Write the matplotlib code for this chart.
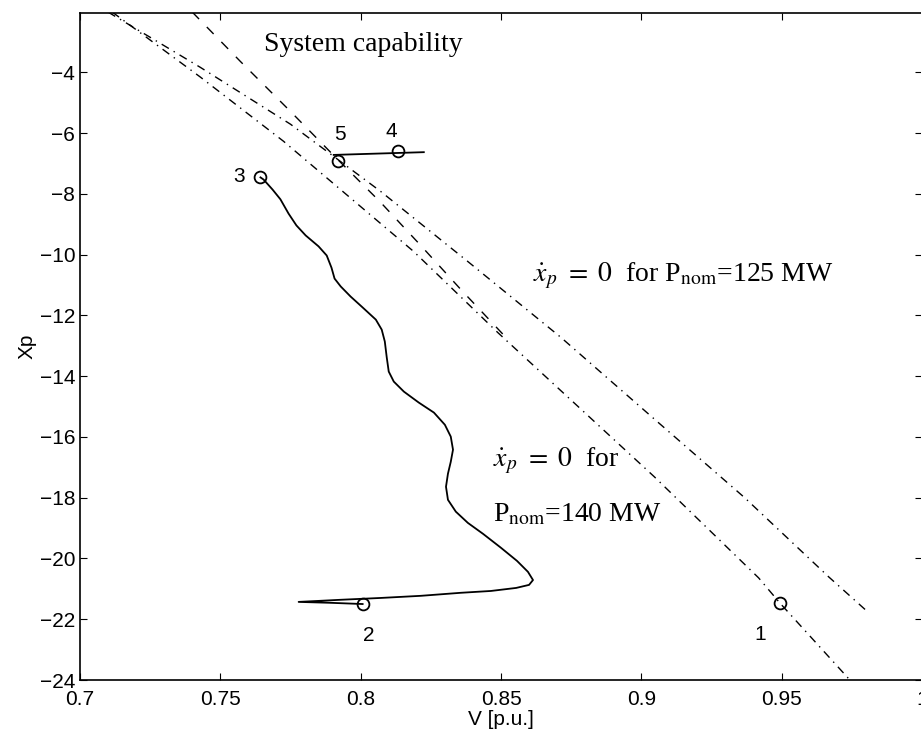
import matplotlib
matplotlib.use("Agg")
import matplotlib.pyplot as plt

plt.rcParams.update({
    "font.family": "Liberation Sans",
    "mathtext.fontset": "stix",
    "xtick.direction": "in",
    "ytick.direction": "in",
    "xtick.top": True,
    "ytick.right": True,
    "xtick.major.size": 5,
    "ytick.major.size": 5,
    "axes.linewidth": 1.2,
})

# x_p = 0 curves (dash-dot)
v_125 = [0.7100, 0.7429, 0.775, 0.8071, 0.8382, 0.8714, 0.9036, 0.9368, 0.9668, 0.9807]
xp_125 = [-2.02, -3.84, -5.71, -7.92, -10.23, -12.73, -15.33, -18.0, -20.61, -21.76]
v_140 = [0.7115, 0.7429, 0.7725, 0.8189, 0.8489, 0.9046, 0.9418, 0.9493, 0.9743]
xp_140 = [-2.02, -4.16, -6.27, -9.90, -12.57, -17.31, -20.64, -21.46, -24.0]

# system capability (dashed)
v_cap = [0.74, 0.7571, 0.775, 0.7918, 0.8071, 0.8214, 0.8357, 0.8518]
xp_cap = [-2.02, -3.64, -5.29, -6.87, -8.28, -9.70, -11.15, -12.73]

# trajectory 2 -> 3
v_traj = [0.8007, 0.7893, 0.7779, 0.7929, 0.8071, 0.8214, 0.8357, 0.8464, 0.8554, 0.8600,
          0.8614, 0.8596, 0.8557, 0.8500, 0.8436, 0.8382, 0.8339, 0.8311, 0.8304, 0.8311,
          0.8321, 0.8329, 0.8321, 0.8300, 0.8261, 0.8207, 0.8154, 0.8118, 0.8100, 0.8093,
          0.8086, 0.8075, 0.8054, 0.8007, 0.7964, 0.7929, 0.7907, 0.7896, 0.7879, 0.7850,
          0.7804, 0.7771, 0.7743, 0.7714, 0.7686, 0.7654, 0.7643]
xp_traj = [-21.50, -21.46, -21.43, -21.36, -21.30, -21.23, -21.13, -21.07, -20.97, -20.87,
           -20.71, -20.44, -20.08, -19.65, -19.19, -18.83, -18.46, -18.07, -17.64, -17.21,
           -16.82, -16.42, -15.99, -15.60, -15.20, -14.87, -14.51, -14.18, -13.85, -13.39,
           -12.86, -12.47, -12.14, -11.74, -11.38, -11.05, -10.79, -10.43, -10.03, -9.73,
           -9.37, -9.04, -8.65, -8.18, -7.86, -7.53, -7.46]
# trajectory 4 -> 5
v_seg = [0.7904, 0.8225]
xp_seg = [-6.72, -6.63]

# marked operating points
pt_labels = ["1", "2", "3", "4", "5"]
pt_v = [0.9493, 0.8007, 0.7643, 0.8132, 0.7918]
pt_xp = [-21.46, -21.50, -7.46, -6.60, -6.93]
lbl_v = [0.9425, 0.8030, 0.7565, 0.8110, 0.7925]
lbl_xp = [-22.50, -22.55, -7.42, -5.95, -6.05]

fig = plt.figure(figsize=(9.21, 7.35), dpi=100)
ax = fig.add_axes([80 / 921, 1 - 680 / 735, 842 / 921, 667 / 735])

dashdot = (0, (6, 4, 1, 4))
ax.plot(v_125, xp_125, color="black", lw=1.0, ls=dashdot)
ax.plot(v_140, xp_140, color="black", lw=1.0, ls=dashdot)
ax.plot(v_cap, xp_cap, color="black", lw=1.0, ls=(0, (7, 8)))
ax.plot(v_traj, xp_traj, color="black", lw=1.3)
ax.plot(v_seg, xp_seg, color="black", lw=1.3)
ax.plot(pt_v, pt_xp, ls="none", marker="o", ms=8.5, mfc="none", mec="black", mew=1.3)

for s, x, y in zip(pt_labels, lbl_v, lbl_xp):
    ax.text(x, y, s, fontsize=15, ha="center", va="center")

serif = dict(family="Liberation Serif", fontsize=20)
ax.text(0.7657, -3.1, "System capability", **serif, va="center")
ax.text(0.8614, -10.89, r"$\dot{x}_p\ =\ 0$  for P$_{\rm nom}$=125 MW", **serif, va="baseline")
ax.text(0.8471, -16.98, r"$\dot{x}_p\ =\ 0$  for", **serif, va="baseline")
ax.text(0.8471, -18.79, r"P$_{\rm nom}$=140 MW", **serif, va="baseline")

ax.set_xlim(0.7, 1.0)
ax.set_ylim(-24, -2.05)
ax.set_xticks([0.7, 0.75, 0.8, 0.85, 0.9, 0.95, 1.0])
ax.set_xticklabels(["0.7", "0.75", "0.8", "0.85", "0.9", "0.95", "1"])
ax.set_yticks(range(-24, -3, 2))
ax.tick_params(labelsize=15)
ax.tick_params(axis="x", pad=7)
ax.set_xlabel("V [p.u.]", fontsize=15, labelpad=1)
ax.set_ylabel("Xp", fontsize=15, labelpad=2)

fig.savefig("out.png", dpi=100)
